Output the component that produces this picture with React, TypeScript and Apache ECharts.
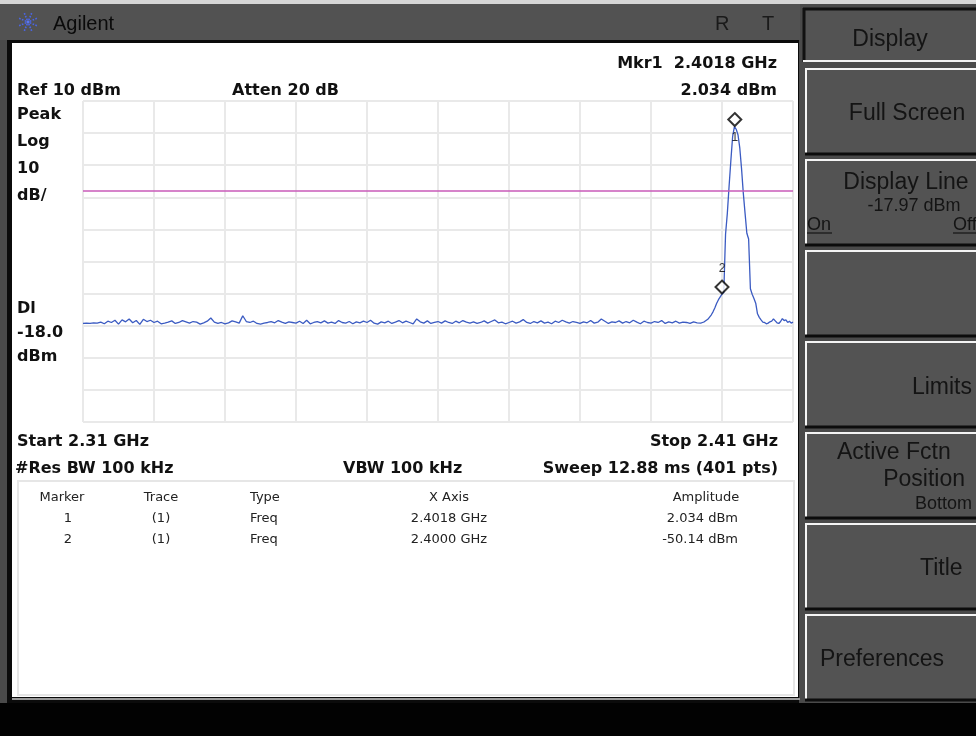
import React, { useEffect, useRef } from "react";
import * as echarts from "echarts";

// ---- sweep settings (MHz / dBm) ----
const START_MHZ = 2310;
const STOP_MHZ = 2410;
const DIV_MHZ = 10;
const REF_DBM = 10;
const BOTTOM_DBM = -90;
const DIV_DB = 10;
const DISPLAY_LINE_DBM = -17.97;

// noise floor, 2310.0 .. 2396.5 MHz, every 0.5 MHz
const floorStartMHz = 2310;
const floorStepMHz = 0.5;
const floorLevels = [
  -59.3, -59.2, -59.3, -59.1, -59.2, -58.9, -59.4, -58.6, -59.0, -58.3,
  -59.5, -58.2, -58.8, -57.9, -59.1, -58.4, -59.6, -58.0, -58.7, -58.3,
  -59.0, -58.6, -59.4, -59.2, -58.9, -58.5, -59.3, -59.0, -58.4, -58.8,
  -59.2, -58.7, -58.9, -59.5, -59.1, -58.6, -57.6, -58.9, -59.3, -59.0,
  -59.4, -59.1, -58.5, -58.8, -59.2, -56.9, -58.7, -59.0, -58.6, -59.3,
  -59.5, -59.2, -59.0, -58.7, -59.1, -58.4, -58.9, -59.3, -58.8, -59.0,
  -59.2, -58.6, -59.3, -58.3, -59.4, -59.0, -58.7, -59.1, -58.5, -59.2,
  -58.9, -59.3, -58.4, -59.0, -59.2, -58.7, -59.4, -58.8, -59.1, -58.6,
  -59.0, -58.3, -59.2, -59.5, -58.8, -59.1, -58.6, -59.3, -58.9, -58.4,
  -59.1, -58.6, -59.0, -59.4, -57.9, -58.8, -59.2, -58.5, -59.3, -59.0,
  -58.7, -59.2, -58.5, -59.0, -59.3, -58.6, -59.1, -58.4, -58.9, -59.2,
  -58.8, -59.3, -59.0, -58.5, -59.2, -58.7, -58.2, -59.1, -58.9, -59.4,
  -59.0, -58.6, -59.2, -58.8, -58.1, -59.0, -59.3, -58.7, -59.1, -58.5,
  -59.2, -58.9, -59.4, -58.6, -59.0, -58.3, -58.8, -59.2, -58.7, -59.0,
  -59.3, -58.8, -59.1, -58.4, -59.2, -58.9, -57.9, -58.6, -59.3, -58.8,
  -59.0, -58.5, -59.2, -58.7, -59.1, -58.3, -58.9, -59.4, -58.6, -59.0,
  -59.2, -58.7, -59.0, -58.4, -59.3, -58.8, -59.1, -58.6, -59.2, -58.9,
  -59.0, -59.3, -58.8, -59.1,
];

// carrier region, 2397.00 .. 2410.00 MHz, every 0.25 MHz
const peakStartMHz = 2397;
const peakStepMHz = 0.25;
const peakLevels = [
  -59.2, -59.0, -58.8, -58.4, -58.0, -57.3, -56.6, -55.6, -54.4, -53.0,
  -51.9, -51.0, -50.14, -49.6, -31.5, -25.0, -16.5, -8.5, -1.0, 2.034,
  1.2, -0.5, -4.5, -11.0, -18.7, -25.0, -31.2, -33.0, -48.5, -50.2,
  -51.5, -53.0, -56.3, -57.4, -58.2, -58.9, -59.0,
  -59.4, -59.2, -58.8, -58.6, -57.9, -58.5, -59.1, -59.3, -58.7, -57.8,
  -58.4, -58.2, -59.0, -58.6, -59.2, -58.9,
];

// markers
const markerIds = ["1", "2"];
const markerTraces = ["(1)", "(1)"];
const markerTypes = ["Freq", "Freq"];
const markerFreqGHz = [2.4018, 2.4];
const markerAmpDbm = [2.034, -50.14];
const markerAmpText = ["2.034", "-50.14"];

const tracePoints: number[][] = [
  ...floorLevels.map((v, i) => [floorStartMHz + i * floorStepMHz, v]),
  ...peakLevels.map((v, i) => [peakStartMHz + i * peakStepMHz, v]),
];

const BOLD = 'bold 16px "DejaVu Sans"';
const SMALL = '13px "DejaVu Sans"';
const KEY = '23px "Liberation Sans"';
const KEY_S = '18px "Liberation Sans"';

function rect(x: number, y: number, w: number, h: number, fill: string, z = -20) {
  return { type: "rect", silent: true, z, shape: { x, y, width: w, height: h }, style: { fill } };
}
function hline(x1: number, y1: number, x2: number, y2: number, stroke: string, w: number, z = -15) {
  return { type: "line", silent: true, z, shape: { x1, y1, x2, y2 }, style: { stroke, lineWidth: w } };
}
function txt(x: number, y: number, text: string, font: string, align = "left", fill = "#111") {
  return {
    type: "text",
    silent: true,
    z: 50,
    x,
    y,
    style: { text, font, fill, textAlign: align, textVerticalAlign: "middle" },
  };
}

function buildGraphics() {
  const g: any[] = [];
  // page background & frame
  g.push(rect(0, 0, 976, 736, "#4a4a4a", -40));
  g.push(rect(0, 0, 976, 4, "#d6d6d6", -39));
  g.push(rect(0, 4, 800, 36, "#525252", -38));
  g.push(rect(7, 40, 792, 663, "#0b0b0b", -37));
  g.push(rect(12, 43, 786, 654, "#ffffff", -36));
  g.push(hline(12, 699, 800, 699, "#9a9a9a", 2, -35));
  g.push(rect(0, 703, 976, 33, "#020202", -34));
  // marker table frame
  g.push({
    type: "rect", silent: true, z: -30,
    shape: { x: 18, y: 481, width: 776, height: 214 },
    style: { fill: "none", stroke: "#e6e6e6", lineWidth: 2 },
  });

  // title bar logo (dotted spark)
  const cx = 28, cy = 22;
  for (let k = 0; k < 8; k++) {
    const a = (k * Math.PI) / 4 + Math.PI / 8;
    g.push({
      type: "line", silent: true, z: 40,
      shape: { x1: cx + Math.cos(a) * 2, y1: cy + Math.sin(a) * 2, x2: cx + Math.cos(a) * 10, y2: cy + Math.sin(a) * 10 },
      style: { stroke: "#4a66e8", lineWidth: 1.6, lineDash: [1.6, 1.4] },
    });
  }
  g.push({
    type: "circle", silent: true, z: 40,
    shape: { cx, cy, r: 1.6 },
    style: { fill: "#5a76f0" },
  });
  g.push(txt(53, 23, "Agilent", '20px "Liberation Sans"', "left", "#0a0a0a"));
  g.push(txt(715, 23, "R", '20px "Liberation Sans"', "left", "#1a1a1a"));
  g.push(txt(762, 23, "T", '20px "Liberation Sans"', "left", "#1a1a1a"));

  // soft keys
  g.push(rect(803, 8, 173, 54, "#535353", -30));
  g.push(hline(803, 9, 976, 9, "#111", 3, -29));
  g.push(hline(804, 8, 804, 62, "#111", 3, -29));
  g.push(hline(803, 61, 976, 61, "#f2f2f2", 2, -29));
  g.push(txt(890, 38, "Display", KEY, "center", "#141414"));
  const keyTops = [68, 159, 250, 341, 432, 523, 614];
  keyTops.forEach((t) => {
    g.push(rect(805, t, 171, 86, "#535353", -30));
    g.push(hline(805, t + 1, 976, t + 1, "#f4f4f4", 2, -29));
    g.push(hline(806, t, 806, t + 86, "#f4f4f4", 2, -29));
    g.push(hline(805, t + 86, 976, t + 86, "#0c0c0c", 3, -29));
  });
  g.push(txt(907, 112, "Full Screen", KEY, "center", "#141414"));
  g.push(txt(906, 181, "Display Line", KEY, "center", "#141414"));
  g.push(txt(914, 205, DISPLAY_LINE_DBM.toFixed(2) + " dBm", KEY_S, "center", "#141414"));
  g.push(txt(807, 224, "On", KEY_S, "left", "#141414"));
  g.push(hline(807, 233, 832, 233, "#141414", 1.2, 45));
  g.push(txt(953, 224, "Off", KEY_S, "left", "#141414"));
  g.push(hline(953, 233, 976, 233, "#141414", 1.2, 45));
  g.push(txt(972, 386, "Limits", KEY, "right", "#141414"));
  g.push(txt(837, 451, "Active Fctn", KEY, "left", "#141414"));
  g.push(txt(965, 478, "Position", KEY, "right", "#141414"));
  g.push(txt(915, 503, "Bottom", KEY_S, "left", "#141414"));
  g.push(txt(920, 567, "Title", KEY, "left", "#141414"));
  g.push(txt(820, 658, "Preferences", KEY, "left", "#141414"));

  // annotations
  g.push(txt(777, 62, `Mkr${markerIds[0]}  ${markerFreqGHz[0].toFixed(4)} GHz`, BOLD, "right"));
  g.push(txt(777, 89, `${markerAmpText[0]} dBm`, BOLD, "right"));
  g.push(txt(17, 89, `Ref ${REF_DBM} dBm`, BOLD));
  g.push(txt(232, 89, "Atten 20 dB", BOLD));
  const leftLabels: [string, number][] = [
    ["Peak", 113], ["Log", 140], [String(DIV_DB), 167], ["dB/", 194],
    ["Dl", 307], [DISPLAY_LINE_DBM.toFixed(1), 331], ["dBm", 355],
  ];
  leftLabels.forEach(([t, y]) => g.push(txt(17, y, t, BOLD)));
  g.push(txt(17, 440, `Start ${(START_MHZ / 1000).toFixed(2)} GHz`, BOLD));
  g.push(txt(778, 440, `Stop ${(STOP_MHZ / 1000).toFixed(2)} GHz`, BOLD, "right"));
  g.push(txt(15, 467, "#Res BW 100 kHz", BOLD));
  g.push(txt(343, 467, "VBW 100 kHz", BOLD));
  g.push(txt(778, 467, "Sweep 12.88 ms (401 pts)", BOLD, "right"));

  // marker table
  g.push(txt(62, 496, "Marker", SMALL, "center", "#222"));
  g.push(txt(161, 496, "Trace", SMALL, "center", "#222"));
  g.push(txt(250, 496, "Type", SMALL, "left", "#222"));
  g.push(txt(449, 496, "X Axis", SMALL, "center", "#222"));
  g.push(txt(706, 496, "Amplitude", SMALL, "center", "#222"));
  const rowY = [517, 538];
  markerIds.forEach((id, i) => {
    const y = rowY[i];
    g.push(txt(68, y, id, SMALL, "center", "#222"));
    g.push(txt(161, y, markerTraces[i], SMALL, "center", "#222"));
    g.push(txt(250, y, markerTypes[i], SMALL, "left", "#222"));
    g.push(txt(449, y, `${markerFreqGHz[i].toFixed(4)} GHz`, SMALL, "center", "#222"));
    g.push(txt(738, y, `${markerAmpText[i]} dBm`, SMALL, "right", "#222"));
  });
  return g;
}

const gridLine = { show: true, lineStyle: { color: "#e9e9e9", width: 2 } };

const option: any = {
  animation: false,
  backgroundColor: "transparent",
  grid: { left: 83, top: 101, width: 710, height: 321, show: false },
  xAxis: {
    type: "value",
    min: START_MHZ,
    max: STOP_MHZ,
    interval: DIV_MHZ,
    axisLine: { show: false },
    axisTick: { show: false },
    axisLabel: { show: false },
    splitLine: gridLine,
  },
  yAxis: {
    type: "value",
    min: BOTTOM_DBM,
    max: REF_DBM,
    interval: DIV_DB,
    axisLine: { show: false },
    axisTick: { show: false },
    axisLabel: { show: false },
    splitLine: gridLine,
  },
  graphic: { elements: buildGraphics() },
  series: [
    {
      type: "line",
      data: tracePoints,
      symbol: "none",
      silent: true,
      z: 3,
      lineStyle: { color: "#3b5bc2", width: 1.3 },
      markLine: {
        silent: true,
        symbol: "none",
        label: { show: false },
        lineStyle: { color: "#c85ab8", width: 1.6, type: "solid" },
        data: [{ yAxis: DISPLAY_LINE_DBM }],
      },
    },
    {
      type: "scatter",
      silent: true,
      z: 5,
      symbol: "diamond",
      symbolSize: 13,
      symbolOffset: [0, -7],
      itemStyle: { color: "#ffffff", borderColor: "#000000", borderWidth: 2 },
      data: markerFreqGHz.map((f, i) => [f * 1000, markerAmpDbm[i]]),
    },
    {
      type: "scatter",
      silent: true,
      z: 6,
      symbolSize: 1,
      itemStyle: { color: "rgba(0,0,0,0)" },
      label: {
        show: true,
        position: "inside",
        color: "#000",
        font: 'bold 11px "DejaVu Serif"',
        formatter: (p: any) => markerIds[p.dataIndex],
      },
      data: markerFreqGHz.map((f, i) => ({
        value: [f * 1000, markerAmpDbm[i]],
        label: { offset: i === 0 ? [0, 10] : [0, -26] },
      })),
    },
  ],
};

export default function App() {
  const ref = useRef<HTMLDivElement>(null);
  useEffect(() => {
    if (!ref.current) return;
    const chart = echarts.init(ref.current, null, { renderer: "svg" });
    chart.setOption(option);
    return () => chart.dispose();
  }, []);
  return (
    <div
      ref={ref}
      style={{ position: "fixed", left: 0, top: 0, width: 976, height: 736 }}
    />
  );
}
